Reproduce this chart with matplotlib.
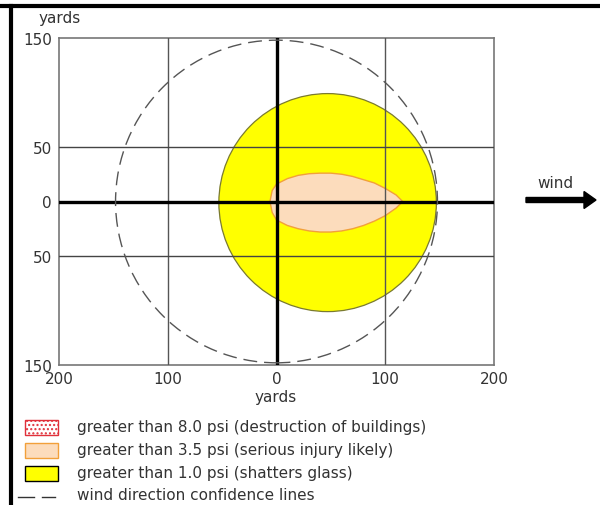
import matplotlib
matplotlib.use("Agg")
import matplotlib.pyplot as plt
from matplotlib.patches import Circle, Polygon, Rectangle, FancyArrow
from matplotlib.lines import Line2D

# ---- data (yards) ----
x_ticks = [-200, -100, 0, 100, 200]
x_tick_labels = ["200", "100", "0", "100", "200"]
y_ticks = [-150, -50, 0, 50, 150]
y_tick_labels = ["150", "50", "0", "50", "150"]
grid_x = [-100, 100]
grid_y = [-50, 50]

confidence_radius = 148
glass_center = (47, -1)
glass_radius = 100

injury_x = [-6, -4, 0, 10, 20, 30, 40, 50, 60, 70, 80, 90, 100, 110, 116]
injury_upper = [0, 10, 16, 21, 24, 25.5, 26, 26, 25, 23, 20, 17, 12, 6, 0]
injury_lower = [0, -10, -17, -22, -25, -27, -28, -28, -27, -25, -22, -18, -13, -6, 0]

legend_labels = [
    "greater than 8.0 psi (destruction of buildings)",
    "greater than 3.5 psi (serious injury likely)",
    "greater than 1.0 psi (shatters glass)",
    "wind direction confidence lines",
]

txt = "#333333"
fs = 11
plt.rcParams["hatch.color"] = "#f08080"
fig = plt.figure(figsize=(6, 5.06), dpi=100)
W, H = 600, 506

ax = fig.add_axes([59 / W, 1 - 366 / H, 435 / W, 327 / H])
ax.set_xlim(-200, 200)
ax.set_ylim(-150, 150)
for s in ax.spines.values():
    s.set_color("#777777")
    s.set_linewidth(1.2)
ax.set_xticks(x_ticks)
ax.set_xticklabels(x_tick_labels)
ax.set_yticks(y_ticks)
ax.set_yticklabels(y_tick_labels)
ax.tick_params(length=0, labelsize=fs, colors=txt, pad=5)
ax.tick_params(axis="x", pad=4)

# yellow region clipped by confidence circle
clip = Circle((0, 0), confidence_radius, transform=ax.transData, facecolor="none", edgecolor="none")
ax.add_patch(clip)
glass = Circle(glass_center, glass_radius, facecolor="#ffff00", edgecolor="#7a7a30", linewidth=0.9, zorder=1)
ax.add_patch(glass)
glass.set_clip_path(clip)

pts = list(zip(injury_x, injury_upper)) + list(zip(injury_x[::-1], injury_lower[::-1]))
inj = Polygon(pts, closed=True, facecolor="#fcdcbc", edgecolor="#f2a03a", linewidth=1.0, zorder=2)
ax.add_patch(inj)

# grid lines
for gx in grid_x:
    ax.axvline(gx, color="#555555", linewidth=1.0, zorder=3)
for gy in grid_y:
    ax.axhline(gy, color="#444444", linewidth=1.0, zorder=3)
ax.axvline(0, color="black", linewidth=2.4, zorder=4)
ax.axhline(0, color="black", linewidth=2.4, zorder=4)

dash = Circle((0, 0), confidence_radius, facecolor="none", edgecolor="#555555",
              linewidth=1.0, linestyle=(0, (10, 5)), zorder=5)
ax.add_patch(dash)

# axis labels
fig.text(60 / W, 1 - 18 / H, "yards", ha="center", va="center", fontsize=fs, color=txt)
fig.text(276 / W, 1 - 398 / H, "yards", ha="center", va="center", fontsize=fs, color=txt)

# wind arrow
fig.text(555 / W, 1 - 184 / H, "wind", ha="center", va="center", fontsize=fs, color=txt)
fig.patches.append(FancyArrow(526 / W, 1 - 201 / H, 58 / W, 0, width=5 / H,
                              head_width=17 / H, head_length=12 / W,
                              length_includes_head=False, color="black",
                              transform=fig.transFigure, figure=fig))

# legend
rows_y = [428, 451, 474, 496]
pw, ph = 33, 15
styles = [
    dict(facecolor="white", edgecolor="#e0303a", hatch="...."),
    dict(facecolor="#fcdcbc", edgecolor="#f2a03a", hatch=""),
    dict(facecolor="#ffff00", edgecolor="black", hatch=""),
]
for i, st in enumerate(styles):
    r = Rectangle((25 / W, 1 - (rows_y[i] + ph / 2) / H), pw / W, ph / H,
                  transform=fig.transFigure, figure=fig, linewidth=1.0, **st)
    fig.patches.append(r)
fig.lines.append(Line2D([18 / W, 34 / W], [1 - 498 / H] * 2, color="#333333", lw=1.0,
                        transform=fig.transFigure, figure=fig))
fig.lines.append(Line2D([42 / W, 55 / W], [1 - 498 / H] * 2, color="#333333", lw=1.0,
                        transform=fig.transFigure, figure=fig))
for i, lab in enumerate(legend_labels):
    fig.text(77 / W, 1 - rows_y[i] / H, lab, ha="left", va="center", fontsize=fs, color=txt)

# outer frame (top and left)
fig.lines.append(Line2D([0, 1], [1 - 7 / H] * 2, color="black", lw=3, transform=fig.transFigure, figure=fig))
fig.lines.append(Line2D([11 / W] * 2, [0, 1 - 7 / H], color="black", lw=3, transform=fig.transFigure, figure=fig))

fig.savefig("out.png", dpi=100)
